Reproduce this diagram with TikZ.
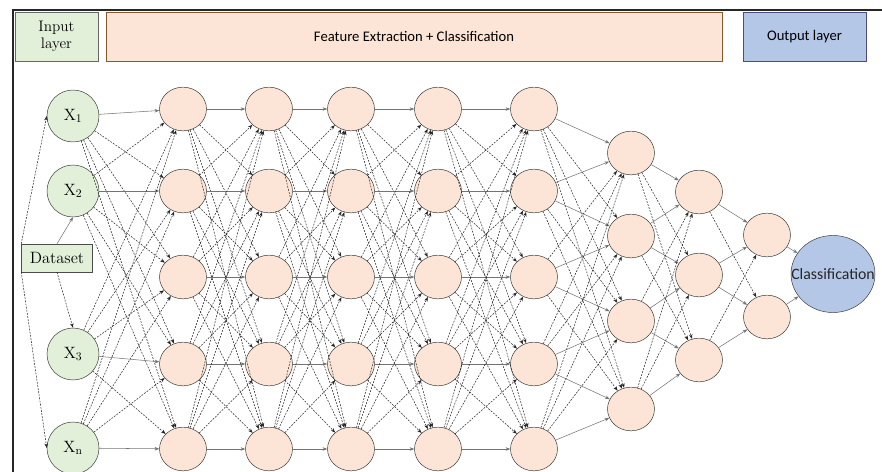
\documentclass[tikz,border=0pt]{standalone}
\usepackage{fontspec}
\usepackage{tikz}
\usetikzlibrary{shapes,arrows.meta,positioning,calc}
\newfontfamily\calibri{Carlito}
\usepackage{xcolor}

\definecolor{ingreen}{RGB}{226,240,217}
\definecolor{peach}{RGB}{252,228,214}
\definecolor{outblue}{RGB}{180,199,231}

\tikzset{
  hdr/.style={draw=#1, line width=0.8pt, inner sep=0pt, align=center},
  innode/.style={circle, draw=black!80, fill=ingreen, minimum size=1.56cm, inner sep=0pt, font=\fontsize{14}{15}\selectfont},
  hnode/.style={ellipse, draw=black!80, fill=peach, minimum width=1.41cm, minimum height=1.31cm, inner sep=0pt},
  link/.style={draw=black!55, line width=0.45pt, -{Stealth[length=4pt,width=3pt]}},
  dlink/.style={draw=black!85, line width=0.45pt, dash pattern=on 1.6pt off 1.1pt, -{Stealth[length=4pt,width=3pt]}}
}

% every node of layer #1 to every node of layer #3
\newcommand{\linklayers}[4]{%
  \foreach \ya [count=\i] in #2 {
    \foreach \yb [count=\j] in #4 {
      \pgfmathtruncatemacro\isnear{abs(\ya-\yb)<60}
      \ifnum\isnear=1
        \draw[link] (#1\i) -- (#3\j);
      \else
        \draw[dlink] (#1\i) -- (#3\j);
      \fi
    }
  }
}

\begin{document}
\begin{tikzpicture}[x=0.03cm, y=-0.03cm]
  \useasboundingbox (0,0) rectangle (882,472);

  % frame
  \draw[line width=1.6pt, black!85] (13,472) -- (13,10) -- (882,10);

  % header boxes
  \node[hdr=black!60, fill=ingreen, minimum width=2.49cm, minimum height=1.47cm,
        font=\fontsize{13}{15}\selectfont] (inhdr) at (56.5,36.5) {Input\\layer};
  \node[hdr=brown!70!black, fill=peach, minimum width=18.48cm, minimum height=1.47cm,
        font=\calibri\fontsize{12.5}{14}\selectfont] (fehdr) at (414,36.5) {Feature Extraction + Classification};
  \node[hdr=blue!30!black!70, fill=outblue, minimum width=3.69cm, minimum height=1.47cm,
        font=\calibri\fontsize{12.5}{14}\selectfont] (outhdr) at (804.5,36.5) {Output layer};

  % input layer
  \node[innode] (in1) at (73,116) {X$_1$};
  \node[innode] (in2) at (73,191) {X$_2$};
  \node[innode] (in3) at (73,354) {X$_3$};
  \node[innode] (in4) at (73,448) {X$_{\mathrm{n}}$};

  \node[draw=black!70, fill=ingreen, minimum width=2.13cm, minimum height=0.84cm, inner sep=0pt,
        font=\fontsize{14}{15}\selectfont] (ds) at (57,258) {Dataset};

  \draw[dlink] (ds.north west) -- (in1.west);
  \draw[link] (ds.north) -- (in2.south);
  \draw[dlink] (ds.south) -- (in3.north);
  \draw[dlink] (ds.south west) -- (in4.west);

  % hidden layers
  \foreach \c/\x in {1/183, 2/269, 3/351, 4/438, 5/534} {
    \foreach \y [count=\r] in {109,191,277,364,449}
      \node[hnode] (h\c-\r) at (\x,\y) {};
  }
  \foreach \y [count=\r] in {153,236,321,409}
    \node[hnode] (h6-\r) at (631,\y) {};
  \foreach \y [count=\r] in {192,275,360}
    \node[hnode] (h7-\r) at (699,\y) {};
  \foreach \y [count=\r] in {235,317}
    \node[hnode] (h8-\r) at (767,\y) {};

  % output
  \node[ellipse, draw=black!80, fill=outblue, minimum width=2.52cm, minimum height=2.31cm, inner sep=0pt,
        label={[font=\calibri\fontsize{13.5}{14}\selectfont, text=black!85]center:Classification}] (cls) at (833,274) {};

  % connections
  \linklayers{in}{{116,191,354,448}}{h1-}{{109,191,277,364,449}}
  \linklayers{h1-}{{109,191,277,364,449}}{h2-}{{109,191,277,364,449}}
  \linklayers{h2-}{{109,191,277,364,449}}{h3-}{{109,191,277,364,449}}
  \linklayers{h3-}{{109,191,277,364,449}}{h4-}{{109,191,277,364,449}}
  \linklayers{h4-}{{109,191,277,364,449}}{h5-}{{109,191,277,364,449}}
  \linklayers{h5-}{{109,191,277,364,449}}{h6-}{{153,236,321,409}}
  \linklayers{h6-}{{153,236,321,409}}{h7-}{{192,275,360}}
  \linklayers{h7-}{{192,275,360}}{h8-}{{235,317}}
  \draw[link] (h8-1) -- (cls);
  \draw[link] (h8-2) -- (cls);
\end{tikzpicture}
\end{document}
